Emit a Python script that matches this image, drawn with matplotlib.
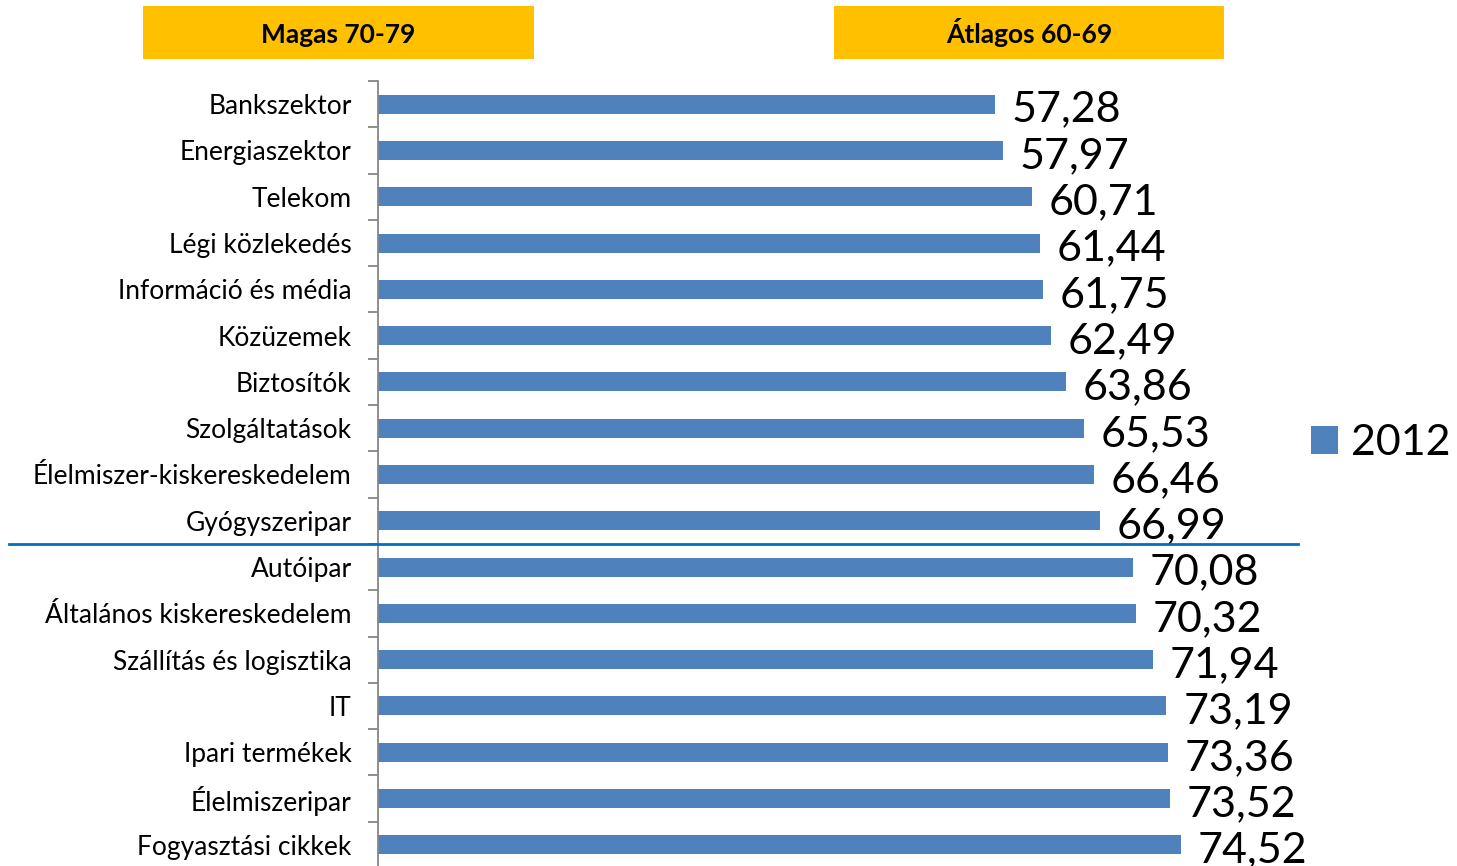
import numpy as np
import matplotlib
matplotlib.use("Agg")
import matplotlib.pyplot as plt
import matplotlib.transforms as mtransforms
from matplotlib.patches import Rectangle, Patch

plt.rcParams['font.family'] = ['Lato', 'DejaVu Sans']

categories = ["Bankszektor", "Energiaszektor", "Telekom", "Légi közlekedés",
              "Információ és média", "Közüzemek", "Biztosítók", "Szolgáltatások",
              "Élelmiszer-kiskereskedelem", "Gyógyszeripar", "Autóipar",
              "Általános kiskereskedelem", "Szállítás és logisztika", "IT",
              "Ipari termékek", "Élelmiszeripar", "Fogyasztási cikkek"]
values = [57.28, 57.97, 60.71, 61.44, 61.75, 62.49, 63.86, 65.53, 66.46,
          66.99, 70.08, 70.32, 71.94, 73.19, 73.36, 73.52, 74.52]
series_name = "2012"
band_labels = ["Magas 70-79", "Átlagos 60-69"]

W, H = 1457, 866
fig = plt.figure(figsize=(W / 100, H / 100), dpi=100)

# axes in pixel terms: left 378, right 1298, top 81, bottom 868
ax = fig.add_axes([378 / W, (H - 868) / H, (1298 - 378) / W, (868 - 81) / H])

bar_color = '#4F81BD'
y = np.arange(len(categories))
ax.barh(y, values, height=0.41, color=bar_color, zorder=2)

ax.set_xlim(0, 85.4)
ax.set_ylim(len(categories) - 0.5, -0.5)

for sp in ['top', 'right', 'bottom']:
    ax.spines[sp].set_visible(False)
ax.spines['left'].set_color('#868686')
ax.spines['left'].set_linewidth(1.3)
ax.set_xticks([])

ax.set_yticks(np.arange(len(categories) + 1) - 0.5)
ax.set_yticklabels([])
ax.set_yticks(y, minor=True)
ax.set_yticklabels(categories, minor=True, fontsize=19)
ax.tick_params(axis='y', which='major', length=7, width=1.3, color='#868686', direction='out')
ax.tick_params(axis='y', which='minor', length=0, pad=19)

for yi, v in zip(y, values):
    ax.annotate(f"{v:.2f}".replace('.', ','), xy=(v, yi), xytext=(12, -12.6),
                textcoords='offset points', ha='left', va='baseline',
                fontsize=31, color='black', annotation_clip=False)

# separator line between Gyógyszeripar and Autóipar
trans = mtransforms.blended_transform_factory(fig.transFigure, ax.transData)
ax.plot([9 / W, 1298 / W], [9.5, 9.5], transform=trans, color='#0070C0',
        lw=2, clip_on=False, zorder=3)

# yellow header boxes
boxes = [(143, 534), (834, 1224)]
for (x0, x1), lab in zip(boxes, band_labels):
    fig.patches.append(Rectangle((x0 / W, 1 - 59 / H), (x1 - x0) / W, 53 / H,
                                 transform=fig.transFigure, facecolor='#FFC000',
                                 edgecolor='none'))
    fig.text((x0 + x1) / 2 / W, 1 - 43 / H, lab, ha='center', va='baseline',
             fontsize=19, fontweight='bold', color='black')

handle = Patch(facecolor=bar_color, edgecolor='none')
fig.legend([handle], [series_name], loc='center left',
           bbox_to_anchor=(1311 / W, 1 - 443 / H), frameon=False, fontsize=31,
           borderaxespad=0, borderpad=0,
           handlelength=0.63, handleheight=0.63, handletextpad=0.3)

fig.savefig("out.png", dpi=100)
